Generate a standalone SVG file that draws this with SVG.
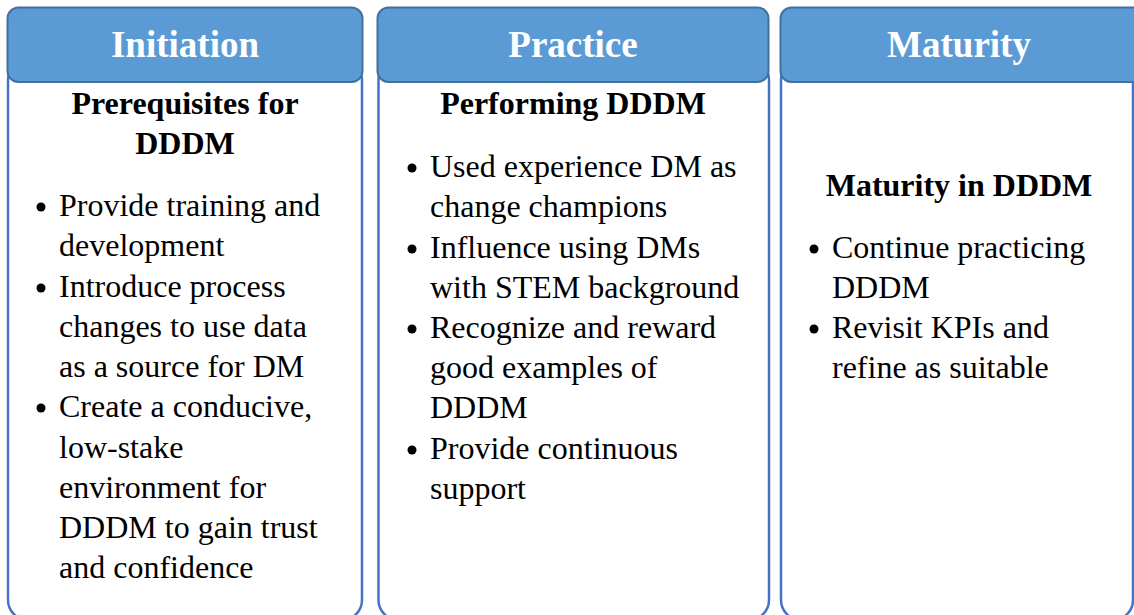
<svg xmlns="http://www.w3.org/2000/svg" width="1134" height="615" viewBox="0 0 1134 615">
<style>
.body{fill:#fff;stroke:#4472C4;stroke-width:2.5}
.head{fill:#5B9BD5;stroke:#41719C;stroke-width:2}
.ht{font-family:"Liberation Serif","Times New Roman",serif;font-weight:bold;font-size:37px;fill:#fff;text-anchor:middle}
.sub{font-family:"Liberation Serif","Times New Roman",serif;font-weight:bold;font-size:32px;fill:#000;text-anchor:middle}
.t{font-family:"Liberation Serif","Times New Roman",serif;font-size:32px;fill:#000}
.b{fill:#000}
</style>
<rect width="1134" height="615" fill="#fff"/>
<g id="initiation">
<rect class="body" x="8" y="60" width="354" height="560" rx="20"/>
<rect class="head" x="7.5" y="7.5" width="355" height="74.5" rx="11"/>
<text class="ht" x="185" y="57">Initiation</text>
<text class="sub" x="185" y="114">Prerequisites for</text>
<text class="sub" x="185" y="154">DDDM</text>
<circle class="b" cx="41" cy="207" r="4.5"/>
<circle class="b" cx="41" cy="288" r="4.5"/>
<circle class="b" cx="41" cy="408" r="4.5"/>
<g class="t">
<text x="59" y="216">Provide training and</text>
<text x="59" y="256">development</text>
<text x="59" y="297">Introduce process</text>
<text x="59" y="337">changes to use data</text>
<text x="59" y="377">as a source for DM</text>
<text x="59" y="417">Create a conducive,</text>
<text x="59" y="458">low-stake</text>
<text x="59" y="498">environment for</text>
<text x="59" y="538">DDDM to gain trust</text>
<text x="59" y="578">and confidence</text>
</g>
</g>
<g id="practice">
<rect class="body" x="378.5" y="60" width="390.5" height="560" rx="20"/>
<rect class="head" x="377.5" y="7.5" width="391" height="74.5" rx="11"/>
<text class="ht" x="573" y="57">Practice</text>
<text class="sub" x="573" y="114">Performing DDDM</text>
<circle class="b" cx="412" cy="168" r="4.5"/>
<circle class="b" cx="412" cy="249" r="4.5"/>
<circle class="b" cx="412" cy="329" r="4.5"/>
<circle class="b" cx="412" cy="450" r="4.5"/>
<g class="t">
<text x="430" y="177">Used experience DM as</text>
<text x="430" y="217">change champions</text>
<text x="430" y="258">Influence using DMs</text>
<text x="430" y="298">with STEM background</text>
<text x="430" y="338">Recognize and reward</text>
<text x="430" y="378">good examples of</text>
<text x="430" y="418">DDDM</text>
<text x="430" y="459">Provide continuous</text>
<text x="430" y="499">support</text>
</g>
</g>
<g id="maturity">
<rect class="body" x="781" y="60" width="352" height="560" rx="20"/>
<rect class="head" x="780.5" y="7.5" width="365" height="74.5" rx="11"/>
<text class="ht" x="959" y="57">Maturity</text>
<text class="sub" x="959" y="196">Maturity in DDDM</text>
<circle class="b" cx="814" cy="249" r="4.5"/>
<circle class="b" cx="814" cy="329" r="4.5"/>
<g class="t">
<text x="832" y="258">Continue practicing</text>
<text x="832" y="298">DDDM</text>
<text x="832" y="338">Revisit KPIs and</text>
<text x="832" y="378">refine as suitable</text>
</g>
</g>
<g id="connectors"/>
</svg>
